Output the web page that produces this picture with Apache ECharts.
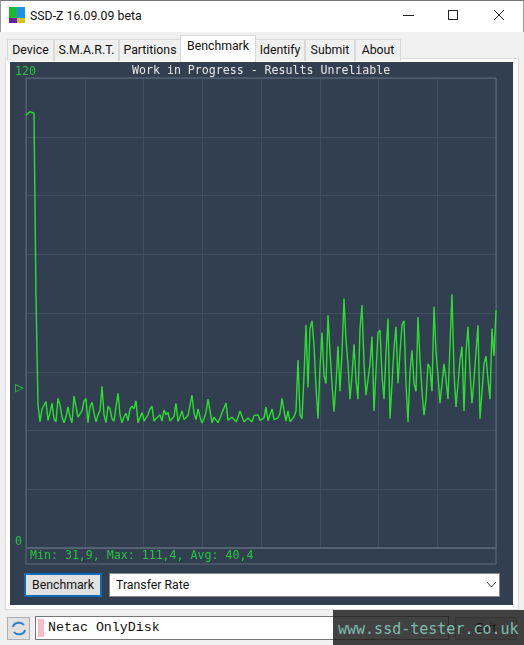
<!DOCTYPE html>
<html>
<head>
<meta charset="utf-8">
<title>SSD-Z</title>
<script src="https://cdn.jsdelivr.net/npm/echarts@6/dist/echarts.min.js"></script>
<style>
html,body{margin:0;padding:0;width:524px;height:645px;overflow:hidden;background:#f0f0f0;font-family:Roboto,"Noto Sans",sans-serif;color:#111;font-size:12px}
.abs{position:absolute;box-sizing:border-box;white-space:nowrap}
.tab{top:39px;height:22px;background:#f0f0f0;border:1px solid #d9d9d9;border-bottom:none;text-align:center;line-height:20px;font-size:12.3px}
</style>
</head>
<body>
<div class="abs" style="left:0;top:0;width:524px;height:32px;background:#fff;border-top:1px solid #777;border-left:1px solid #999;border-right:1px solid #999"></div>
<div class="abs" style="left:9px;top:7px;width:8px;height:11px;background:#1fb82e"></div>
<div class="abs" style="left:17px;top:7px;width:8px;height:11px;background:#1e8fe8"></div>
<div class="abs" style="left:9px;top:18px;width:8px;height:5px;background:#6a1fa8"></div>
<div class="abs" style="left:17px;top:18px;width:8px;height:5px;background:#d8c020"></div>
<div class="abs" style="left:30px;top:7px;font-size:12.3px;line-height:18px">SSD-Z 16.09.09 beta</div>
<div class="abs" style="left:403px;top:15px;width:11px;height:1px;background:#222"></div>
<div class="abs" style="left:448px;top:10px;width:10px;height:10px;border:1px solid #222"></div>
<svg class="abs" style="left:493px;top:9px" width="12" height="12"><path d="M1 1L11 11M11 1L1 11" stroke="#222" fill="none"/></svg>

<div class="abs" style="left:5px;top:58px;width:514px;height:552px;background:#fff;border:1px solid #ddd"></div>
<div class="abs tab" style="left:7px;width:47px">Device</div>
<div class="abs tab" style="left:54px;width:65px">S.M.A.R.T.</div>
<div class="abs tab" style="left:119px;width:62px">Partitions</div>
<div class="abs tab" style="left:180px;top:35px;width:76px;height:27px;background:#fff;line-height:21px">Benchmark</div>
<div class="abs tab" style="left:255px;width:50px">Identify</div>
<div class="abs tab" style="left:305px;width:50px">Submit</div>
<div class="abs tab" style="left:355px;width:46px">About</div>

<div id="chart" class="abs" style="left:10px;top:62px;width:503px;height:543px"></div>

<div class="abs" style="left:24px;top:573px;width:78px;height:24px;background:#e1e1e1;border:2px solid #0a6cb8;text-align:center;line-height:20px;font-size:12.3px">Benchmark</div>
<div class="abs" style="left:109px;top:573px;width:391px;height:24px;background:#fff;border:1px solid #888;line-height:22px;padding-left:6px;font-size:12.3px">Transfer Rate</div>
<svg class="abs" style="left:486px;top:581px" width="12" height="8"><path d="M1 1L5.5 6L10 1" stroke="#444" fill="none"/></svg>

<div class="abs" style="left:7px;top:617px;width:23px;height:23px;background:#e1e1e1;border:1px solid #adadad"></div>
<svg class="abs" style="left:11px;top:620px" width="16" height="17"><path d="M2 7A6 5 0 0 1 13 5M14 10A6 5 0 0 1 3 12" stroke="#2a7fc8" stroke-width="2" fill="none"/></svg>
<div class="abs" style="left:35px;top:616px;width:414px;height:24px;background:#fff;border:1px solid #777"></div>
<div class="abs" style="left:38px;top:619px;width:6px;height:18px;background:#f8bcc8"></div>
<div class="abs" style="left:48px;top:619px;font-family:'Liberation Mono',monospace;font-size:13.3px;line-height:18px">Netac OnlyDisk</div>
<div class="abs" style="left:455px;top:617px;width:62px;height:23px;background:#e1e1e1;border:1px solid #adadad;text-align:center;line-height:21px;font-size:12.3px">Exit</div>
<div class="abs" style="left:333px;top:610px;width:191px;height:35px;background:rgba(30,30,30,0.84)"></div>
<div class="abs" style="left:338px;top:620px;font-family:'DejaVu Sans Mono',monospace;font-size:15px;line-height:18px;color:#7fbcae">www.ssd-tester.co.uk</div>

<script>
// transfer rate in MB/s, one sample about every 2 pixels
var rates = [
    110.5, 111, 111.4, 111.2, 111, 64, 36.5, 32.2, 35.5, 35.2, 37.4, 32.6, 34.5, 37, 33, 32.2,
    38.2, 36.5, 33.5, 32, 33.5, 36, 33.5, 32, 38.8, 36, 33.4, 33.8, 35, 37.5, 38.2, 32,
    36, 37.2, 34.5, 32.2, 34, 35, 41.3, 34, 32, 36.2, 35.5, 33, 32.4, 36, 39.5, 34,
    32, 33.5, 34.4, 32.5, 35.5, 36.2, 35.5, 37.6, 32, 32.4, 34.6, 32.4, 32.2, 34, 35.5, 36.2,
    32.4, 33, 33.5, 34, 32.4, 35.2, 34, 34.6, 32.4, 33, 33.6, 36.9, 32.3, 33.6, 35, 32.8,
    32.8, 33.8, 33.6, 39, 34.5, 32.8, 35.5, 33.5, 31.9, 33, 34.6, 38, 35, 32, 33.4, 33.8,
    32, 33.2, 34.5, 35, 37, 32.6, 32.4, 33.4, 33, 32.2, 33.4, 35, 35.2, 32.2, 32, 33.2,
    33.4, 32.2, 33.8, 33.6, 34, 32.6, 32.4, 33.2, 36, 32.5, 32.4, 35.5, 32.8, 33, 33.2, 34.4,
    38.2, 35, 32.4, 35, 32.2, 32.6, 33.5, 35,
    48, 34, 33, 44, 56.9, 41, 56, 58, 51.8, 41, 33, 46, 55, 44, 42, 59.4,
    50, 42, 34.8, 42, 51.5, 40, 50, 63.7, 53, 47, 38, 44, 52, 43, 38, 56,
    62, 47, 39, 43, 47, 54, 35, 45, 55, 55.6, 44, 38, 50, 58.6, 33, 42,
    51, 56.5, 42, 50, 57, 58, 42, 32.2, 45, 50.5, 42, 40, 59, 48, 40, 33.9,
    38, 47, 46, 40, 61.6, 50, 44, 37, 42, 47, 43, 38, 52, 64.8, 45, 36,
    42, 48, 51.4, 35, 50, 56.5, 45, 37, 43, 50, 56.9, 33, 40, 47, 49, 43,
    38, 56, 49, 60.7
];
var yMax = 120;
var yStep = 15;
var avgRate = 40.4;
var titleText = "Work in Progress - Results Unreliable";
var statsText = "Min: 31,9, Max: 111,4, Avg: 40,4";

var mono = "'DejaVu Sans Mono', monospace";
var green = "#24c63e";
var lastIndex = rates.length - 1;

var chart = echarts.init(document.getElementById("chart"));
chart.setOption({
    animation: false,
    backgroundColor: "#323f50",
    title: {
        text: titleText,
        left: 117,
        top: -2,
        textStyle: { color: "#e8e8e8", fontFamily: mono, fontSize: 11.6, fontWeight: "normal" }
    },
    grid: { left: 16, right: 17, top: 16, bottom: 57 },
    xAxis: {
        type: "value",
        min: 0,
        max: lastIndex,
        interval: lastIndex / 8,
        axisLine: { show: false },
        axisTick: { show: false },
        axisLabel: { show: false },
        splitLine: { lineStyle: { color: "#414f60", width: 1 } }
    },
    yAxis: {
        type: "value",
        min: 0,
        max: yMax,
        interval: yStep,
        axisLine: { show: false },
        axisTick: { show: false },
        axisLabel: {
            color: green,
            fontFamily: mono,
            fontSize: 11.6,
            align: "left",
            verticalAlign: "bottom",
            margin: 11,
            formatter: function (v) { return v === 0 || v === yMax ? String(v) : ""; }
        },
        splitLine: { lineStyle: { color: "#414f60", width: 1 } }
    },
    series: [{
        type: "line",
        data: rates.map(function (v, i) { return [i, v]; }),
        showSymbol: false,
        lineStyle: { color: "#2ae02e", width: 1.4 }
    }]
});

var plotLeft = 16, plotRight = 486, plotTop = 16;
var plotBottom = chart.convertToPixel({ yAxisIndex: 0 }, 0);
var avgY = chart.convertToPixel({ yAxisIndex: 0 }, avgRate);
chart.setOption({
    graphic: [
        { type: "rect", shape: { x: plotLeft, y: plotTop, width: plotRight - plotLeft, height: plotBottom - plotTop }, style: { fill: "none", stroke: "#5f6d7c" } },
        { type: "rect", shape: { x: plotLeft, y: plotBottom, width: plotRight - plotLeft, height: 16 }, style: { fill: "none", stroke: "#5f6d7c" } },
        { type: "text", x: plotLeft + 4, y: plotBottom + 2, style: { text: statsText, fill: green, font: "11.6px " + mono } },
        { type: "text", x: 5, y: avgY - 9, style: { text: "\u25B7", fill: green, font: "15px " + mono } }
    ]
});
</script>
</body>
</html>
